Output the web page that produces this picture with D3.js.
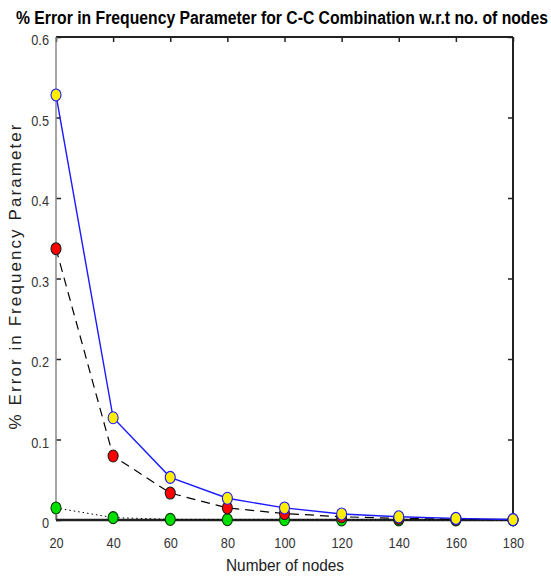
<!DOCTYPE html>
<html>
<head>
<meta charset="utf-8">
<script src="https://cdn.jsdelivr.net/npm/d3@7"></script>
<style>
  body { margin: 0; background: #fff; }
  svg { display: block; }
  .tick text { font-family: "Liberation Sans", Arial, sans-serif; font-size: 15px; fill: #333; }
</style>
</head>
<body>
<div id="chart"></div>
<script>
// data
var nodes = [20, 40, 60, 80, 100, 120, 140, 160, 180];
var errYellow = [0.528, 0.127, 0.053, 0.027, 0.015, 0.0075, 0.004, 0.002, 0.0005];
var errRed = [0.337, 0.0795, 0.0335, 0.015, 0.008, 0.004, 0.002, 0.001, 0.0003];
var errGreen = [0.015, 0.003, 0.0008, 0.0004, 0.0003, 0.0002, 0.0001, 0.0001, 0];
var yTicks = [0, 0.1, 0.2, 0.3, 0.4, 0.5, 0.6];

const width = 551, height = 576;
const margin = {top: 37, right: 38, bottom: 56, left: 56};
var innerWidth = width - margin.left - margin.right;
var innerHeight = height - margin.top - margin.bottom;

var svg = d3.select("#chart").append("svg")
    .attr("width", width)
    .attr("height", height);

var g = svg.append("g")
    .attr("transform", "translate(" + margin.left + "," + margin.top + ")");

var xScale = d3.scaleLinear().domain([20, 180]).range([0, innerWidth]);
var yScale = d3.scaleLinear().domain([0, 0.6]).range([innerHeight, 0]);

// narrow font look: squeeze text a bit
function squeeze(sel, k) {
    sel.each(function() {
        var w = this.getComputedTextLength();
        d3.select(this).attr("textLength", w * k).attr("lengthAdjust", "spacingAndGlyphs");
    });
}

// axes (matlab style, ticks inside)
var xAxis = d3.axisBottom(xScale).tickValues(nodes).tickSizeInner(-5).tickSizeOuter(0).tickPadding(17);
var yAxis = d3.axisLeft(yScale).tickValues(yTicks).tickSizeInner(-5).tickSizeOuter(0).tickPadding(7)
    .tickFormat(d => d === 0 ? "0" : d3.format(".1f")(d));

var gx = g.append("g")
    .attr("transform", "translate(0," + innerHeight + ")")
    .call(xAxis);
gx.select(".domain").remove();
gx.selectAll(".tick line").attr("stroke", "#222").attr("stroke-width", 1.5);
squeeze(gx.selectAll(".tick text"), 0.85);

var gy = g.append("g").call(yAxis);
gy.select(".domain").remove();
gy.selectAll(".tick line").attr("stroke", "#222").attr("stroke-width", 1.5);
gy.selectAll(".tick text").attr("dy", "0.5em");
squeeze(gy.selectAll(".tick text"), 0.85);

// top & right ticks
g.append("g").call(d3.axisTop(xScale).tickValues(nodes).tickSizeInner(-5).tickSizeOuter(0).tickFormat(""))
    .call(a => a.select(".domain").remove())
    .selectAll(".tick line").attr("stroke", "#222").attr("stroke-width", 1.5);
g.append("g").attr("transform", "translate(" + innerWidth + ",0)")
    .call(d3.axisRight(yScale).tickValues(yTicks).tickSizeInner(-5).tickSizeOuter(0).tickFormat(""))
    .call(a => a.select(".domain").remove())
    .selectAll(".tick line").attr("stroke", "#222").attr("stroke-width", 1.5);

// box
g.append("line").attr("x1", 0).attr("x2", innerWidth).attr("y1", 0).attr("y2", 0)
    .attr("stroke", "#222").attr("stroke-width", 2);
g.append("line").attr("x1", innerWidth).attr("x2", innerWidth).attr("y1", 0).attr("y2", innerHeight)
    .attr("stroke", "#222").attr("stroke-width", 2);
g.append("line").attr("x1", 0).attr("x2", 0).attr("y1", 0).attr("y2", innerHeight)
    .attr("stroke", "#888").attr("stroke-width", 1.5);
g.append("line").attr("x1", 0).attr("x2", innerWidth).attr("y1", innerHeight).attr("y2", innerHeight)
    .attr("stroke", "#222").attr("stroke-width", 2.5);

var line = d3.line().x(d => xScale(d[0])).y(d => yScale(d[1]));

var series = [
    {vals: errGreen, stroke: "#000", dash: "1.5,3", width: 1, fill: "#00e000", edge: "#0a3a0a"},
    {vals: errRed, stroke: "#000", dash: "9,6", width: 1.2, fill: "#ff0000", edge: "#1a1a1a"},
    {vals: errYellow, stroke: "#1a1aff", dash: null, width: 1.4, fill: "#ffee00", edge: "#1a1aff"}
];

series.forEach(function(s) {
    var pts = nodes.map((n, i) => [n, s.vals[i]]);
    g.append("path")
        .datum(pts)
        .attr("fill", "none")
        .attr("stroke", s.stroke)
        .attr("stroke-width", s.width)
        .attr("stroke-dasharray", s.dash)
        .attr("d", line);
});

series.forEach(function(s) {
    var pts = nodes.map((n, i) => [n, s.vals[i]]);
    g.append("g").selectAll("ellipse")
        .data(pts)
        .enter()
        .append("ellipse")
        .attr("cx", d => xScale(d[0]))
        .attr("cy", d => yScale(d[1]))
        .attr("rx", 5)
        .attr("ry", 6)
        .style("fill", s.fill)
        .attr("stroke", s.edge)
        .attr("stroke-width", 1.1);
});

// title and labels
svg.append("text")
    .attr("x", 282).attr("y", 24)
    .attr("text-anchor", "middle")
    .style("font-family", "'Liberation Sans', Arial, sans-serif")
    .style("font-weight", "bold")
    .style("font-size", "18px")
    .attr("fill", "#000")
    .attr("textLength", 532)
    .attr("lengthAdjust", "spacingAndGlyphs")
    .text("% Error in Frequency Parameter for C-C Combination w.r.t no. of nodes");

svg.append("text")
    .attr("x", 285).attr("y", 571)
    .attr("text-anchor", "middle")
    .style("font-family", "'Liberation Sans', Arial, sans-serif")
    .style("font-size", "17px")
    .attr("fill", "#222")
    .attr("textLength", 118)
    .attr("lengthAdjust", "spacingAndGlyphs")
    .text("Number of nodes");

svg.append("text")
    .attr("transform", "translate(21,277) rotate(-90)")
    .attr("text-anchor", "middle")
    .style("font-family", "'Liberation Sans', Arial, sans-serif")
    .style("font-size", "17px")
    .attr("fill", "#222")
    .attr("textLength", 305)
    .attr("lengthAdjust", "spacing")
    .text("% Error in Frequency Parameter");
</script>
</body>
</html>
